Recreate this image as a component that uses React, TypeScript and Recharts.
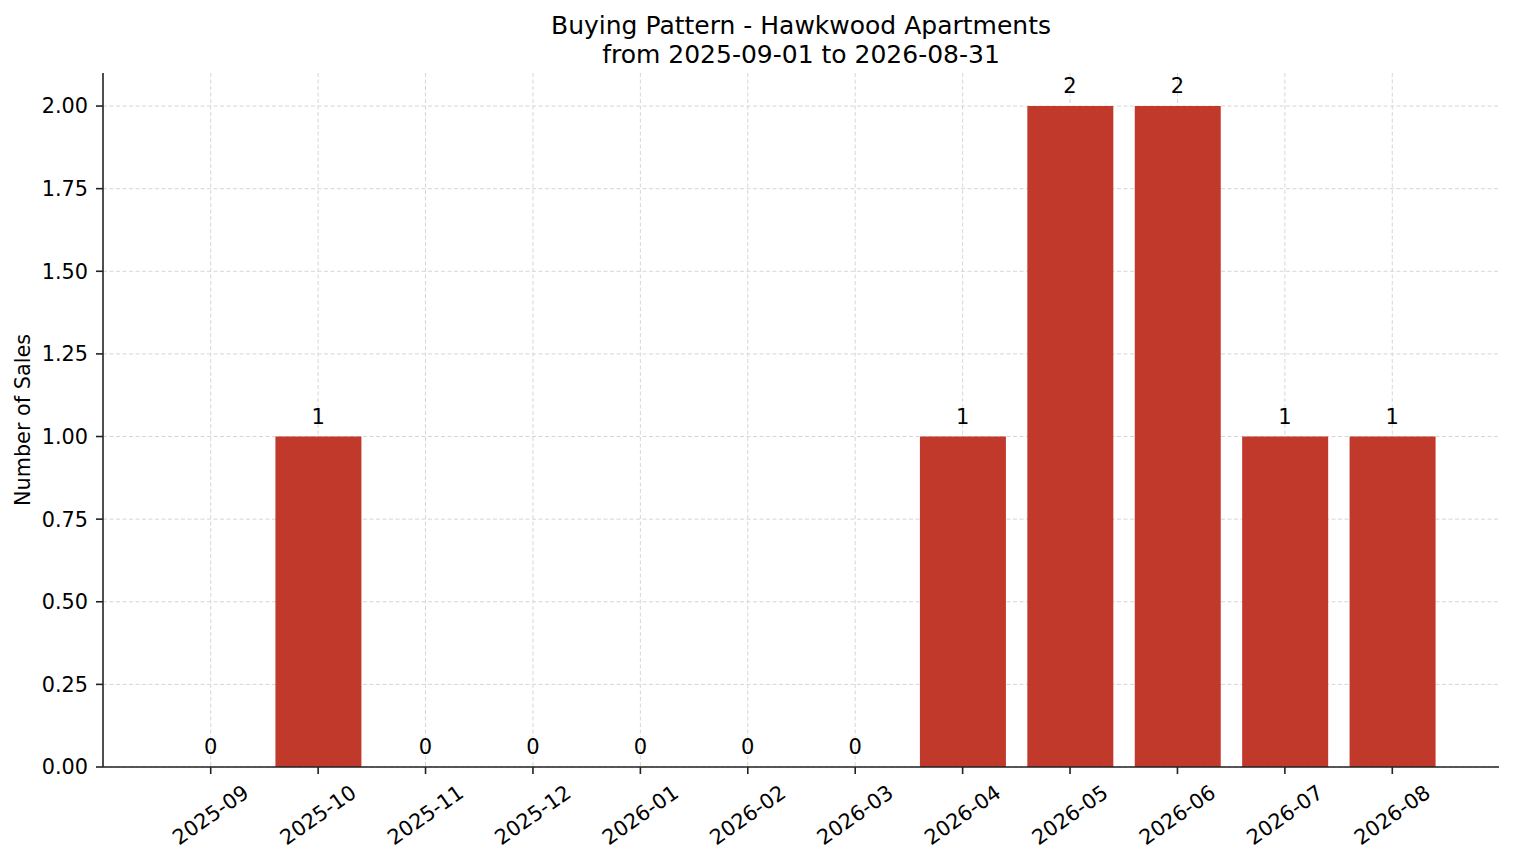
import React from 'react'
import { ComposedChart, Bar, Line, XAxis, YAxis, CartesianGrid, LabelList, Label } from 'recharts'

const months = [
  '2025-09', '2025-10', '2025-11', '2025-12', '2026-01', '2026-02',
  '2026-03', '2026-04', '2026-05', '2026-06', '2026-07', '2026-08',
]
const sales = [0, 1, 0, 0, 0, 0, 0, 1, 2, 2, 1, 1]
const yTicks = [0, 0.25, 0.5, 0.75, 1, 1.25, 1.5, 1.75, 2]

const data = months.map((m, i) => ({ month: m, sales: sales[i] }))

const FONT = '"DejaVu Sans", sans-serif'
const AXIS = '#222222'

function XTick(props: any) {
  const { x, y, payload } = props
  const cy = y + 39
  return (
    <text
      x={x}
      y={cy}
      textAnchor="middle"
      dominantBaseline="central"
      transform={`rotate(-35, ${x}, ${cy})`}
      fontSize={20.8}
      fontFamily={FONT}
      fill="#000"
    >
      {payload.value}
    </text>
  )
}

export default function App() {
  return (
    <div style={{ position: 'absolute', left: 0, top: 0, width: 1514, height: 863, background: '#fff', fontFamily: FONT }}>
      <div
        style={{
          position: 'absolute', left: 103, top: 11, width: 1396,
          textAlign: 'center', fontSize: 25, lineHeight: '29px', color: '#000',
        }}
      >
        Buying Pattern - Hawkwood Apartments
        <br />
        from 2025-09-01 to 2026-08-31
      </div>
      <ComposedChart
        width={1514}
        height={863}
        data={data}
        margin={{ top: 73, right: 15, bottom: 0, left: 0 }}
        barCategoryGap={0}
      >
        <XAxis
          dataKey="month"
          height={96}
          padding={{ left: 54, right: 53 }}
          tick={<XTick />}
          tickSize={7}
          tickMargin={2}
          interval={0}
          axisLine={{ stroke: AXIS, strokeWidth: 1.6 }}
          tickLine={{ stroke: AXIS, strokeWidth: 1.6 }}
        />
        <YAxis
          width={103}
          domain={[0, 2.1]}
          ticks={yTicks}
          tickFormatter={(v: number) => v.toFixed(2)}
          tick={{ fontSize: 20.8, fill: '#000', fontFamily: FONT }}
          tickSize={7}
          tickMargin={8}
          axisLine={{ stroke: AXIS, strokeWidth: 1.6 }}
          tickLine={{ stroke: AXIS, strokeWidth: 1.6 }}
        >
          <Label
            content={(p: any) => {
              const vb = p.viewBox
              const cx = vb.x + 23
              const cy = vb.y + vb.height / 2
              return (
                <text
                  x={cx}
                  y={cy}
                  textAnchor="middle"
                  dominantBaseline="central"
                  transform={`rotate(-90, ${cx}, ${cy})`}
                  fontSize={20.8}
                  fontFamily={FONT}
                  fill="#000"
                >
                  Number of Sales
                </text>
              )
            }}
          />
        </YAxis>
        <Bar dataKey="sales" fill="#c0392b" barSize={86} isAnimationActive={false} />
        <CartesianGrid stroke="#d6d6d6" strokeDasharray="4 2.5" strokeWidth={1} syncWithTicks />
        <Line
          dataKey="sales"
          stroke="none"
          dot={false}
          activeDot={false}
          legendType="none"
          isAnimationActive={false}
        >
          <LabelList
            dataKey="sales"
            position="top"
            offset={13}
            fontSize={21}
            fontFamily={FONT}
            fill="#000"
          />
        </Line>
      </ComposedChart>
    </div>
  )
}
